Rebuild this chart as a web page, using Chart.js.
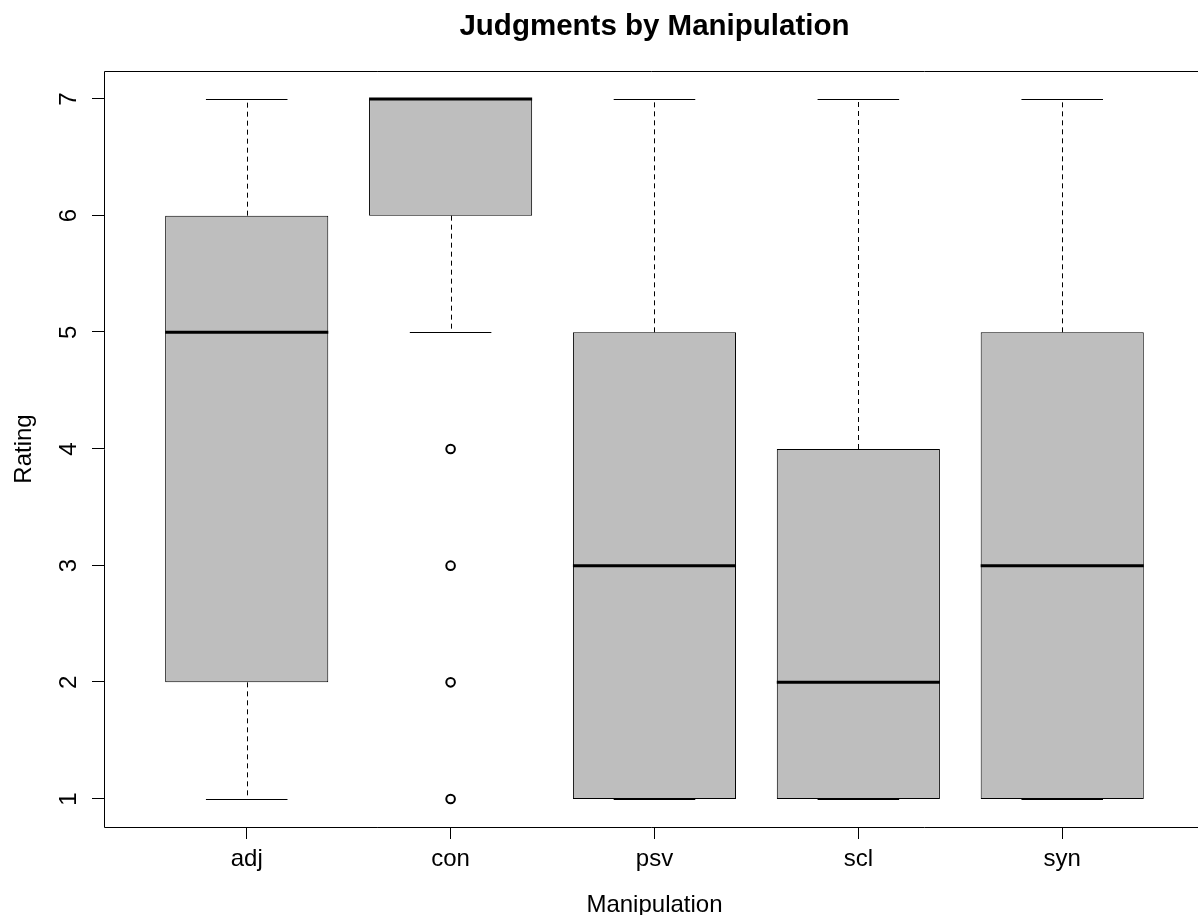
<!DOCTYPE html>
<html>
<head>
<meta charset="utf-8">
<title>Judgments by Manipulation</title>
<script src="https://cdn.jsdelivr.net/npm/chart.js@4.4.1/dist/chart.umd.min.js"></script>
<style>
  html, body { margin: 0; padding: 0; background: #fff; overflow: hidden; }
  canvas { display: block; }
</style>
</head>
<body>
<canvas id="c" width="1198" height="915"></canvas>
<script>
// Five-number summaries per manipulation (rating scale 1-7)
const categories     = ['adj', 'con', 'psv', 'scl', 'syn'];
const lowerWhisker   = [1, 5, 1, 1, 1];
const lowerQuartile  = [2, 6, 1, 1, 1];
const medians        = [5, 7, 3, 2, 3];
const upperQuartile  = [6, 7, 5, 4, 5];
const upperWhisker   = [7, 7, 7, 7, 7];
const outliers       = [[], [1, 2, 3, 4], [], [], []];
const yTicks         = [1, 2, 3, 4, 5, 6, 7];

const titleText = 'Judgments by Manipulation';
const xTitle = 'Manipulation';
const yTitle = 'Rating';

const FONT = '"Liberation Sans", Arial, Helvetica, sans-serif';
const BOX_HALF = 0.4;   // half box width in category units
const CAP_HALF = 0.2;   // half staple width
const TICK_LEN = 12;

// whiskers, staples and median bars, positioned through the chart scales
const boxParts = {
  id: 'boxParts',
  afterDatasetsDraw(chart) {
    const { ctx, scales: { x, y } } = chart;
    ctx.save();
    ctx.strokeStyle = '#000';
    categories.forEach((c, i) => {
      const cx = x.getPixelForValue(i + 1);
      const bw = x.getPixelForValue(i + 1 + BOX_HALF) - cx;
      const cw = x.getPixelForValue(i + 1 + CAP_HALF) - cx;
      const seg = (a, b, dashed, w) => {
        ctx.beginPath();
        ctx.lineWidth = w;
        ctx.setLineDash(dashed ? [5, 4] : []);
        ctx.moveTo(a[0], a[1]);
        ctx.lineTo(b[0], b[1]);
        ctx.stroke();
      };
      const xc = Math.round(cx) + 0.5;
      // whiskers
      if (upperWhisker[i] > upperQuartile[i]) {
        seg([xc, y.getPixelForValue(upperQuartile[i])], [xc, y.getPixelForValue(upperWhisker[i])], true, 1);
      }
      if (lowerWhisker[i] < lowerQuartile[i]) {
        seg([xc, y.getPixelForValue(lowerQuartile[i])], [xc, y.getPixelForValue(lowerWhisker[i])], true, 1);
      }
      // staples
      const yu = Math.round(y.getPixelForValue(upperWhisker[i])) + 0.5;
      const yl = Math.round(y.getPixelForValue(lowerWhisker[i])) + 0.5;
      seg([cx - cw, yu], [cx + cw, yu], false, 1);
      seg([cx - cw, yl], [cx + cw, yl], false, 1);
      // median
      const ym = y.getPixelForValue(medians[i]);
      seg([cx - bw, ym], [cx + bw, ym], false, 3);
    });
    ctx.restore();
  },
  afterDraw(chart) {
    const { ctx, chartArea: a, scales: { x, y } } = chart;
    ctx.save();
    ctx.setLineDash([]);
    ctx.globalAlpha = 1;
    ctx.globalCompositeOperation = 'source-over';
    // plot frame (left, top, bottom)
    ctx.strokeStyle = '#000';
    ctx.lineWidth = 1;
    ctx.beginPath();
    ctx.moveTo(chart.width, a.top + 0.5);
    ctx.lineTo(a.left + 0.5, a.top + 0.5);
    ctx.lineTo(a.left + 0.5, a.bottom + 0.5);
    ctx.lineTo(chart.width, a.bottom + 0.5);
    ctx.stroke();

    ctx.fillStyle = '#000';
    // y tick marks, pointing outwards from the left frame
    const left = Math.round(a.left);
    y.ticks.forEach(t => {
      const py = Math.round(y.getPixelForValue(t.value));
      ctx.fillRect(left - TICK_LEN, py - 1, TICK_LEN + 1, 1);
    });

    // rotated y tick labels
    ctx.font = '24px ' + FONT;
    ctx.textAlign = 'center';
    ctx.textBaseline = 'alphabetic';
    y.ticks.forEach(t => {
      ctx.save();
      ctx.translate(76, y.getPixelForValue(t.value));
      ctx.rotate(-Math.PI / 2);
      ctx.fillText(String(t.value), 0, 0);
      ctx.restore();
    });
    // y axis title
    ctx.save();
    ctx.translate(31, (a.top + a.bottom) / 2);
    ctx.rotate(-Math.PI / 2);
    ctx.fillText(yTitle, 0, 0);
    ctx.restore();

    const midX = x.getPixelForValue(3);
    // x axis title
    ctx.fillText(xTitle, midX, 912);
    // main title
    ctx.font = 'bold 29.5px ' + FONT;
    ctx.fillText(titleText, midX, 35);
    ctx.restore();
  }
};

const boxData = categories.map((c, i) => ({ x: i + 1, y: [lowerQuartile[i], upperQuartile[i]] }));
const outlierData = [];
outliers.forEach((vals, i) => vals.forEach(v => outlierData.push({ x: i + 1, y: v })));

new Chart(document.getElementById('c'), {
  type: 'bar',
  data: {
    datasets: [
      {
        type: 'bar',
        data: boxData,
        backgroundColor: '#bebebe',
        borderColor: '#000',
        borderWidth: 1,
        borderSkipped: false,
        categoryPercentage: 1,
        barPercentage: 2 * BOX_HALF,
        order: 2
      },
      {
        type: 'scatter',
        data: outlierData,
        pointStyle: 'circle',
        pointRadius: 4.3,
        pointBorderWidth: 2,
        pointBorderColor: '#000',
        pointBackgroundColor: 'rgba(0,0,0,0)',
        order: 1
      }
    ]
  },
  options: {
    responsive: false,
    animation: false,
    devicePixelRatio: 1,
    layout: { padding: { top: 71, right: 0, bottom: 0, left: 0 } },
    plugins: {
      legend: { display: false },
      tooltip: { enabled: false },
      title: { display: false }
    },
    scales: {
      x: {
        type: 'linear',
        position: 'bottom',
        min: 0.3,
        max: 5.635,
        offset: false,
        afterBuildTicks: s => { s.ticks = categories.map((c, i) => ({ value: i + 1 })); },
        afterFit: s => { s.height = 88; },
        ticks: {
          callback: v => categories[v - 1] ?? '',
          autoSkip: false,
          minRotation: 0,
          maxRotation: 0,
          padding: 6,
          color: '#000',
          font: { family: FONT, size: 24 }
        },
        grid: { offset: false, drawOnChartArea: false, drawTicks: true, tickLength: TICK_LEN, color: '#000', lineWidth: 1 },
        border: { display: false }
      },
      y: {
        type: 'linear',
        position: 'left',
        min: 0.76,
        max: 7.24,
        afterBuildTicks: s => { s.ticks = yTicks.map(v => ({ value: v })); },
        afterFit: s => { s.width = 104; },
        // marks and rotated labels come from the boxParts plugin
        ticks: { display: false },
        grid: { display: false },
        border: { display: false }
      }
    }
  },
  plugins: [boxParts]
});
</script>
</body>
</html>
